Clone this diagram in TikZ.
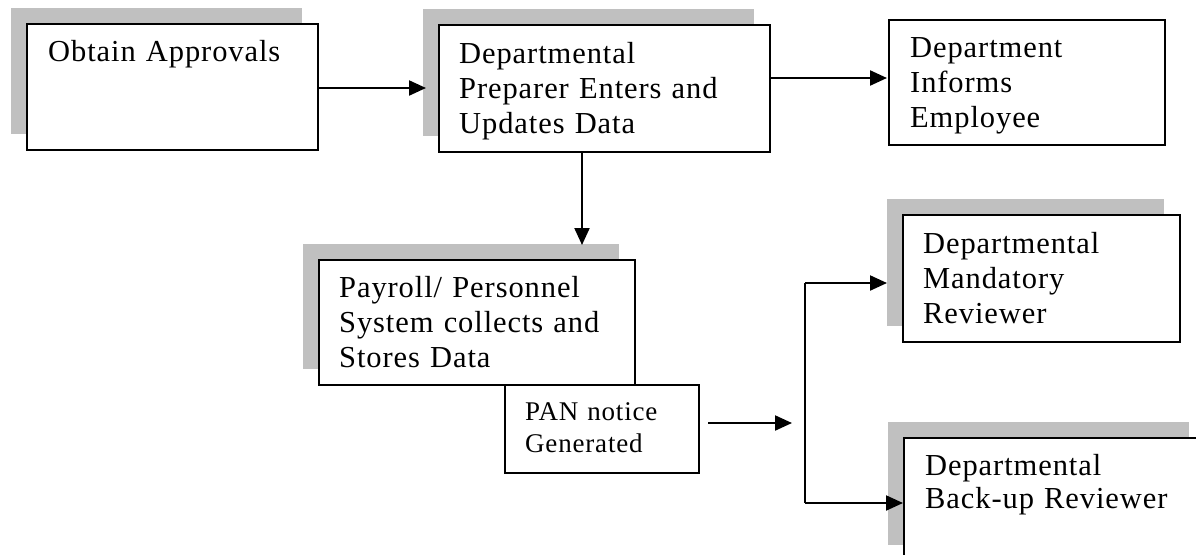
\documentclass[tikz,border=0pt]{standalone}
\usepackage{fontspec}
\setmainfont{Liberation Serif}[LetterSpace=3]
\usetikzlibrary{arrows.meta,shadows}
\definecolor{shadegray}{RGB}{192,192,192}
\begin{document}
\begin{tikzpicture}[x=1pt,y=-1pt]
\tikzset{
  box/.style={draw, line width=2pt, fill=white, inner sep=0pt, anchor=north west},
  shadowed/.style={general shadow={fill=shadegray, shadow xshift=-16pt, shadow yshift=16pt}},
  label/.style={anchor=base west, inner sep=0pt, align=left, text width=300pt,
                font=\fontsize{30.5}{35}\selectfont},
  small/.style={anchor=base west, inner sep=0pt, align=left, text width=200pt,
                font=\fontsize{27}{32}\selectfont},
  link/.style={line width=2.2pt},
  arr/.style={link, -{Triangle[length=17pt,width=15pt]}}
}
\path[use as bounding box] (0,0) rectangle (1196,554);
\clip (0,0) rectangle (1196,554);

% boxes
\node[box, shadowed, minimum width=291pt, minimum height=126pt] (b1) at (26,23) {};
\node[box, shadowed, minimum width=331pt, minimum height=127pt] (b2) at (438,24) {};
\node[box, minimum width=276pt, minimum height=125pt] (inf) at (888,19) {};
\node[box, shadowed, minimum width=316pt, minimum height=125pt] (b3) at (318,259) {};
\node[box, minimum width=194pt, minimum height=88pt] (pan) at (504,384) {};
\node[box, shadowed, minimum width=277pt, minimum height=127pt] (mand) at (902,214) {};
\node[box, shadowed, minimum width=301pt, minimum height=123pt] (back) at (903,437) {};

% texts
\node[label] (t1) at (48,61) {Obtain Approvals};
\node[label] (t2) at (459,63) {Departmental\\Preparer Enters and\\Updates Data};
\node[label] (tinf) at (910,57) {Department\\Informs\\Employee};
\node[label] (t3) at (339,297) {Payroll/ Personnel\\System collects and\\Stores Data};
\node[small] (tpan) at (525,420) {PAN notice\\Generated};
\node[label] (tmand) at (923,253) {Departmental\\Mandatory\\Reviewer};
\node[label, font=\fontsize{30.5}{33}\selectfont] (tback) at (925,475) {Departmental\\Back-up Reviewer};

% connectors
\coordinate (a1) at (426,88);
\draw[arr] (b1.east |- a1) -- (a1);
\coordinate (a2) at (887,78);
\draw[arr] (b2.east |- a2) -- (a2);
\coordinate (a3) at (582,245);
\draw[arr] (b2.south -| a3) -- (a3);
\coordinate (a4) at (792,423);
\draw[arr] (pan.east |- a4) ++(8,0) -- (a4);
\coordinate (splittop) at (805,283);
\coordinate (splitbot) at (805,503);
\draw[link] (splittop) -- (splitbot);
\draw[arr] (splittop) -- ([xshift=-15pt]mand.west |- splittop);
\draw[arr] (splitbot) -- (back.west |- splitbot);
\end{tikzpicture}
\end{document}
